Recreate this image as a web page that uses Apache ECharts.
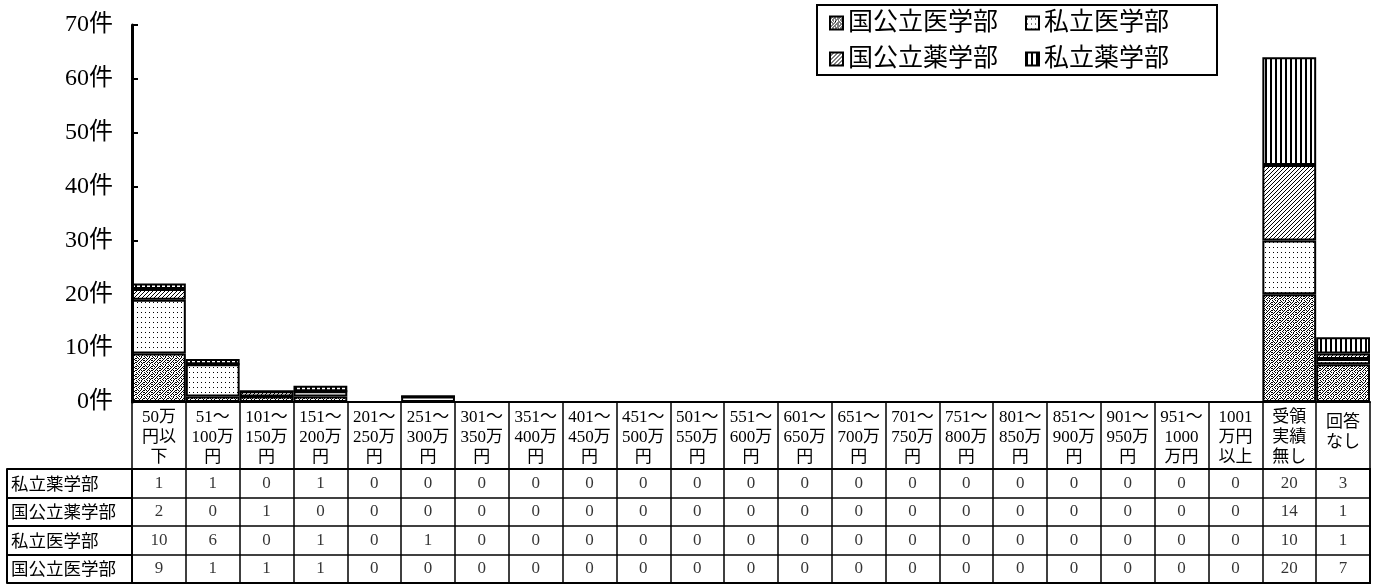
<!DOCTYPE html>
<html>
<head>
<meta charset="utf-8">
<script src="https://cdn.jsdelivr.net/npm/echarts@6/dist/echarts.min.js"></script>
<style>
  html, body { margin: 0; padding: 0; background: #fff; }
  #chart { width: 1377px; height: 585px; }
</style>
</head>
<body>
<div id="chart"></div>
<script>
const categories = [
  "50万\n円以\n下", "51～\n100万\n円", "101～\n150万\n円", "151～\n200万\n円",
  "201～\n250万\n円", "251～\n300万\n円", "301～\n350万\n円", "351～\n400万\n円",
  "401～\n450万\n円", "451～\n500万\n円", "501～\n550万\n円", "551～\n600万\n円",
  "601～\n650万\n円", "651～\n700万\n円", "701～\n750万\n円", "751～\n800万\n円",
  "801～\n850万\n円", "851～\n900万\n円", "901～\n950万\n円", "951～\n1000\n万円",
  "1001\n万円\n以上", "受領\n実績\n無し", "回答\nなし"
];
const rowNames = ["私立薬学部", "国公立薬学部", "私立医学部", "国公立医学部"];
const privPharm = [1, 1, 0, 1, 0, 0, 0, 0, 0, 0, 0, 0, 0, 0, 0, 0, 0, 0, 0, 0, 0, 20, 3];
const pubPharm  = [2, 0, 1, 0, 0, 0, 0, 0, 0, 0, 0, 0, 0, 0, 0, 0, 0, 0, 0, 0, 0, 14, 1];
const privMed   = [10, 6, 0, 1, 0, 1, 0, 0, 0, 0, 0, 0, 0, 0, 0, 0, 0, 0, 0, 0, 0, 10, 1];
const pubMed    = [9, 1, 1, 1, 0, 0, 0, 0, 0, 0, 0, 0, 0, 0, 0, 0, 0, 0, 0, 0, 0, 20, 7];
const yMin = 0, yMax = 70, yStep = 10, yUnit = "件";
const legendNames = ["国公立医学部", "私立医学部", "国公立薬学部", "私立薬学部"];

const tableValues = {
  "私立薬学部": privPharm,
  "国公立薬学部": pubPharm,
  "私立医学部": privMed,
  "国公立医学部": pubMed
};

function makePattern(rows) {
  const h = rows.length, w = rows[0].length;
  const c = document.createElement('canvas');
  c.width = w; c.height = h;
  const ctx = c.getContext('2d');
  ctx.fillStyle = '#fff';
  ctx.fillRect(0, 0, w, h);
  ctx.fillStyle = '#000';
  for (let y = 0; y < h; y++)
    for (let x = 0; x < w; x++)
      if (rows[y][x] === '#') ctx.fillRect(x, y, 1, 1);
  return { image: c, repeat: 'repeat' };
}

const patSpeckle = makePattern([
  "#.#..#.#",
  ".#..#...",
  "#..#.#.#",
  "..#...#.",
  "#..#.#..",
  ".#...#..",
  "#.#.#..#",
  "...#..#."
]);
const patDots = makePattern([
  "....",
  "....",
  ".#..",
  "....",
  "...."
]);
const patDiag = makePattern([
  "...#",
  "..#.",
  ".#..",
  "#..."
]);
const patVert = makePattern([
  "##...",
  "##...",
  "##...",
  "##..."
]);

const FONT = '"Liberation Serif", "Noto Sans CJK JP", serif';

function barSeries(name, data, pat) {
  return {
    name: name,
    type: 'bar',
    stack: 'total',
    xAxisIndex: 0, yAxisIndex: 0,
    barCategoryGap: '0%',
    data: data,
    itemStyle: { color: pat, borderColor: '#000', borderWidth: 2 }
  };
}

const tableData = [];
rowNames.forEach((r, ri) => {
  tableValues[r].forEach((v, ci) => tableData.push([ci, ri, v]));
});

const chart = echarts.init(document.getElementById('chart'), null, { renderer: 'canvas' });
chart.setOption({
  animation: false,
  backgroundColor: '#fff',
  textStyle: { fontFamily: FONT, color: '#000' },
  legend: {
    data: legendNames,
    icon: 'rect',
    left: 817, top: 5,
    width: 392,
    padding: [4, 4, 2, 12],
    itemGap: 8,
    itemWidth: 13, itemHeight: 13,
    borderColor: '#000', borderWidth: 2,
    textStyle: { fontSize: 25, fontFamily: FONT, color: '#000', width: 169, lineHeight: 28 }
  },
  grid: [
    { left: 132, right: 7, top: 25, bottom: 183 },
    { left: 132, right: 7, top: 469, bottom: 2, show: true, borderColor: '#000', borderWidth: 2 }
  ],
  xAxis: [
    {
      type: 'category', gridIndex: 0, data: categories,
      axisLine: { lineStyle: { color: '#000', width: 2 } },
      axisTick: { show: true, length: 67, interval: 0, lineStyle: { color: '#000', width: 1.5 } },
      axisLabel: {
        interval: 0, margin: 6, fontSize: 17, lineHeight: 20, color: '#000', fontFamily: FONT,
        formatter: function (v) {
          const lines = v.split('\n');
          if (lines.length === 2) return lines.map(l => '{m|' + l + '}').join('\n');
          return v;
        },
        rich: { m: { fontSize: 17, lineHeight: 20, padding: [10, 0, 0, 0], fontFamily: FONT } }
      },
      splitLine: { show: false }
    },
    {
      type: 'category', gridIndex: 1, data: categories,
      axisLine: { show: false }, axisTick: { show: false }, axisLabel: { show: false },
      splitLine: { show: true, interval: 0, lineStyle: { color: '#000', width: 1.5 } }
    }
  ],
  yAxis: [
    {
      type: 'value', gridIndex: 0, min: yMin, max: yMax, interval: yStep,
      axisLine: { show: true, lineStyle: { color: '#000', width: 3 } },
      axisTick: { show: true, inside: true, length: 6, lineStyle: { color: '#000', width: 2 } },
      axisLabel: { formatter: '{value}' + yUnit, fontSize: 24, margin: 19, color: '#000', fontFamily: FONT },
      splitLine: { show: false }
    },
    {
      type: 'category', gridIndex: 1, data: rowNames, inverse: true,
      axisLine: { show: true, lineStyle: { color: '#000', width: 2 } },
      axisTick: { show: true, length: 125, lineStyle: { color: '#000', width: 2 } },
      axisLabel: { align: 'left', margin: 121, fontSize: 17.5, color: '#000', fontFamily: '"Noto Sans CJK JP", sans-serif' },
      splitLine: { show: true, lineStyle: { color: '#000', width: 1.5 } }
    },
    {
      type: 'category', gridIndex: 1, data: rowNames, inverse: true, position: 'left', offset: 125,
      axisLine: { show: true, lineStyle: { color: '#000', width: 2 } },
      axisTick: { show: false }, axisLabel: { show: false }, splitLine: { show: false }
    }
  ],
  series: [
    barSeries("国公立医学部", pubMed, patSpeckle),
    barSeries("私立医学部", privMed, patDots),
    barSeries("国公立薬学部", pubPharm, patDiag),
    barSeries("私立薬学部", privPharm, patVert),
    {
      name: 'table', type: 'scatter', xAxisIndex: 1, yAxisIndex: 1,
      symbolSize: 1, itemStyle: { color: 'rgba(0,0,0,0)' },
      data: tableData,
      label: {
        show: true, position: 'inside', fontSize: 17, color: '#000', fontFamily: FONT,
        formatter: p => String(p.value[2])
      }
    }
  ]
});
</script>
</body>
</html>
